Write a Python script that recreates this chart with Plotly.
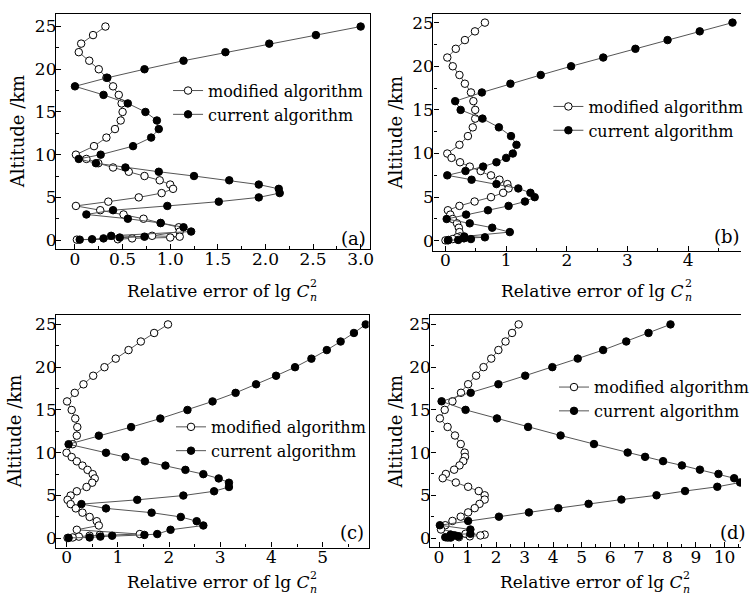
import plotly.graph_objects as go

# ---------------- data ----------------
ALT_HIGH = [25, 24, 23, 22, 21, 20, 19, 18, 17, 16, 15, 14, 13, 12, 11, 10]
ALT_MID = [9.5, 9, 8.5, 8, 7.5, 7, 6.5, 6, 5.5, 5, 4.5, 4, 3.5, 3, 2.5, 2, 1.5, 1]
ALT_LOW = [0.5, 0.4, 0.3, 0.2, 0.1, 0.05]
ALTITUDE = ALT_HIGH + ALT_MID + ALT_LOW

a_modified = [0.32, 0.19, 0.065, 0.04, 0.15, 0.25, 0.33, 0.40, 0.46, 0.49, 0.50, 0.48, 0.42, 0.33, 0.20, 0.01,
              0.12, 0.245, 0.40, 0.565, 0.73, 0.89, 1.00, 1.03, 0.91, 0.67, 0.35, 0.01, 0.265, 0.51, 0.72, 0.90, 1.09, 1.10,
              0.81, 1.10, 1.00, 0.60, 0.45, 0.02]
a_current = [3.00, 2.53, 2.04, 1.58, 1.14, 0.73, 0.34, 0.00, 0.30, 0.555, 0.74, 0.86, 0.88, 0.80, 0.61, 0.27,
             0.04, 0.22, 0.53, 0.88, 1.25, 1.62, 1.93, 2.14, 2.15, 1.93, 1.51, 0.97, 0.40, 0.12, 0.555, 0.90, 1.14, 1.22,
             0.38, 0.73, 0.47, 0.30, 0.18, 0.05]

b_modified = [0.65, 0.486, 0.32, 0.17, 0.03, 0.12, 0.23, 0.32, 0.42, 0.46, 0.49, 0.49, 0.45, 0.37, 0.23, 0.03,
              0.10, 0.24, 0.40, 0.58, 0.75, 0.89, 1.02, 1.04, 0.95, 0.75, 0.48, 0.23, 0.04, 0.08, 0.12, 0.19, 0.22, 0.23,
              0.24, 0.19, 0.30, 0.12, 0.05, 0.00]
b_current = [4.73, 4.19, 3.66, 3.13, 2.60, 2.07, 1.57, 1.07, 0.60, 0.16, 0.25, 0.61, 0.88, 1.08, 1.17, 1.11,
             1.00, 0.84, 0.62, 0.33, 0.03, 0.43, 0.84, 1.20, 1.40, 1.47, 1.31, 1.04, 0.70, 0.34, 0.02, 0.40, 0.77, 1.06,
             0.31, 0.65, 0.31, 0.42, 0.21, 0.04]

c_modified = [1.98, 1.71, 1.45, 1.21, 0.96, 0.74, 0.52, 0.33, 0.16, 0.01, 0.10, 0.17, 0.21, 0.20, 0.12, 0.00,
              0.10, 0.20, 0.31, 0.41, 0.51, 0.55, 0.50, 0.39, 0.20, 0.08, 0.02, 0.08, 0.18, 0.31, 0.45, 0.59, 0.63, 0.20,
              1.43, 0.65, 0.45, 0.24, 0.12, 0.02]
c_current = [5.84, 5.61, 5.35, 5.08, 4.78, 4.46, 4.09, 3.70, 3.30, 2.85, 2.36, 1.83, 1.26, 0.63, 0.04, 0.77,
             1.15, 1.53, 1.93, 2.32, 2.67, 2.97, 3.17, 3.17, 2.88, 2.28, 1.38, 0.29, 0.77, 1.66, 2.23, 2.54, 2.67, 2.03,
             1.77, 1.52, 0.89, 0.66, 0.45, 0.04]

d_modified = [2.79, 2.56, 2.33, 2.08, 1.83, 1.56, 1.30, 1.02, 0.77, 0.47, 0.20, 0.03, 0.30, 0.56, 0.76, 0.90,
              0.91, 0.85, 0.72, 0.53, 0.24, 0.13, 0.59, 1.02, 1.39, 1.60, 1.60, 1.42, 1.25, 1.02, 0.76, 0.47, 0.22, 0.07,
              0.93, 1.60, 1.45, 1.08, 0.70, 0.30]
d_current = [8.11, 7.34, 6.56, 5.75, 4.86, 3.97, 3.02, 2.08, 1.11, 0.09, 0.93, 2.03, 3.12, 4.26, 5.43, 6.61,
             7.22, 7.85, 8.51, 9.14, 9.79, 10.34, 10.55, 9.75, 8.62, 7.62, 6.39, 5.24, 4.18, 3.15, 2.10, 1.02, 0.03, 1.10,
             1.10, 0.41, 0.55, 0.68, 0.22, 0.41]

SERIES_NAMES = ["modified algorithm", "current algorithm"]
PANEL_LABELS = ["(a)", "(b)", "(c)", "(d)"]

a_xticks = [0, 0.5, 1.0, 1.5, 2.0, 2.5, 3.0]
a_xticktext = ["0", "0.5", "1.0", "1.5", "2.0", "2.5", "3.0"]
b_xticks = [0, 1, 2, 3, 4]
c_xticks = [0, 1, 2, 3, 4, 5]
d_xticks = [0, 1, 2, 3, 4, 5, 6, 7, 8, 9, 10]
y_ticks = [0, 5, 10, 15, 20, 25]

Y_TITLE = "Altitude /km"
X_TITLE = "Relative error of lg <i>C</i>"

# ---------------- layout helpers ----------------
W, H = 754, 602
FONT = "DejaVu Serif, Liberation Serif, serif"


def px(x):
    return x / W


def py(y):
    return 1 - y / H


panels = [
    dict(mod=a_modified, cur=a_current, label=PANEL_LABELS[0],
         box=(57, 12.3, 376, 248.3), xr=[-0.199, 3.093], yr=[-1.05, 26.44],
         xt=a_xticks, xtt=a_xticktext, xminor=[0.25, 0.75, 1.25, 1.75, 2.25, 2.75],
         rightline=True, ytitle_x=18, xtitle_y=290, label_pos=(360, 238),
         legend_pos=(171, 72)),
    dict(mod=b_modified, cur=b_current, label=PANEL_LABELS[1],
         box=(441, 12.3, 754, 250), xr=[-0.199, 4.87], yr=[-1.14, 25.96],
         xt=b_xticks, xtt=[str(v) for v in b_xticks], xminor=[0.5, 1.5, 2.5, 3.5, 4.5],
         rightline=False, ytitle_x=402, xtitle_y=290, label_pos=(740, 236),
         legend_pos=(558, 88)),
    dict(mod=c_modified, cur=c_current, label=PANEL_LABELS[2],
         box=(57.3, 315, 375, 548.3), xr=[-0.2, 5.895], yr=[-1.08, 26.05],
         xt=c_xticks, xtt=[str(v) for v in c_xticks], xminor=[0.5, 1.5, 2.5, 3.5, 4.5, 5.5],
         rightline=True, ytitle_x=15, xtitle_y=583, label_pos=(358, 533),
         legend_pos=(174, 410)),
    dict(mod=d_modified, cur=d_current, label=PANEL_LABELS[3],
         box=(438, 315, 754, 548), xr=[-0.30, 10.58], yr=[-1.08, 26.05],
         xt=d_xticks, xtt=[str(v) for v in d_xticks], xminor=[v + 0.5 for v in d_xticks],
         rightline=False, ytitle_x=402, xtitle_y=583, label_pos=(746, 533),
         legend_pos=(564, 370)),
]

y_minor = [2.5, 7.5, 12.5, 17.5, 22.5]

fig = go.Figure()
annotations = []
layout = dict(
    width=W, height=H, autosize=False,
    margin=dict(l=0, r=0, t=0, b=0),
    paper_bgcolor="white", plot_bgcolor="white",
    font=dict(family=FONT, size=16, color="black"),
)

LINE_COLOR = "#555555"
TICK_SIZE = 17

for i, p in enumerate(panels):
    n = i + 1
    xa = "x" if n == 1 else f"x{n}"
    ya = "y" if n == 1 else f"y{n}"
    leg = "legend" if n == 1 else f"legend{n}"
    x0, y0, x1, y1 = p["box"]

    fig.add_trace(go.Scatter(
        x=p["mod"], y=ALTITUDE, mode="lines+markers", name=SERIES_NAMES[0],
        xaxis=xa, yaxis=ya, legend=leg,
        line=dict(color=LINE_COLOR, width=1),
        marker=dict(symbol="circle", size=7.5, color="white", line=dict(color="black", width=1)),
    ))
    fig.add_trace(go.Scatter(
        x=p["cur"], y=ALTITUDE, mode="lines+markers", name=SERIES_NAMES[1],
        xaxis=xa, yaxis=ya, legend=leg,
        line=dict(color=LINE_COLOR, width=1),
        marker=dict(symbol="circle", size=7.5, color="black", line=dict(color="black", width=1)),
    ))

    xkey = "xaxis" if n == 1 else f"xaxis{n}"
    ykey = "yaxis" if n == 1 else f"yaxis{n}"
    layout[xkey] = dict(
        domain=[px(x0), min(1.0, px(x1))], anchor=ya, range=p["xr"],
        showline=True, linecolor="black", linewidth=1.3, mirror=True,
        showgrid=False, zeroline=False,
        tickmode="array", tickvals=p["xt"], ticktext=p["xtt"],
        ticks="inside", ticklen=5, tickwidth=1, tickcolor="black",
        ticklabelstandoff=-6,
        tickfont=dict(family=FONT, size=TICK_SIZE, color="black"),
        minor=dict(tickmode="array", tickvals=p["xminor"], ticks="inside", ticklen=3,
                   tickwidth=1, tickcolor="black", showgrid=False),
    )
    layout[ykey] = dict(
        domain=[py(y1), py(y0)], anchor=xa, range=p["yr"],
        showline=True, linecolor="black", linewidth=1.3, mirror=p["rightline"],
        showgrid=False, zeroline=False,
        tickmode="array", tickvals=y_ticks, ticktext=[str(v) for v in y_ticks],
        ticks="inside", ticklen=5, tickwidth=1, tickcolor="black",
        ticklabelstandoff=-5,
        tickfont=dict(family=FONT, size=TICK_SIZE, color="black"),
        minor=dict(tickmode="array", tickvals=y_minor, ticks="inside", ticklen=3,
                   tickwidth=1, tickcolor="black", showgrid=False),
    )
    lx, ly = p["legend_pos"]
    layout[leg] = dict(
        x=px(lx), y=py(ly), xanchor="left", yanchor="top",
        bgcolor="rgba(0,0,0,0)", borderwidth=0,
        font=dict(family=FONT, size=16, color="black"),
        itemsizing="trace",
    )

    # y title
    annotations.append(dict(
        text=Y_TITLE, x=px(p["ytitle_x"]), y=py((y0 + y1) / 2), xref="paper", yref="paper",
        showarrow=False, textangle=-90, xanchor="center", yanchor="middle",
        font=dict(family=FONT, size=18, color="black"),
    ))
    # x title with stacked super/subscript
    cx = (x0 + min(x1, W)) / 2
    xend = cx + 101
    ty = p["xtitle_y"]
    annotations.append(dict(
        text=X_TITLE, x=px(xend), y=py(ty), xref="paper", yref="paper",
        showarrow=False, xanchor="right", yanchor="middle",
        font=dict(family=FONT, size=17, color="black"),
    ))
    annotations.append(dict(
        text="2", x=px(xend - 4), y=py(ty - 7), xref="paper", yref="paper",
        showarrow=False, xanchor="left", yanchor="middle",
        font=dict(family=FONT, size=11, color="black"),
    ))
    annotations.append(dict(
        text="<i>n</i>", x=px(xend - 4), y=py(ty + 7), xref="paper", yref="paper",
        showarrow=False, xanchor="left", yanchor="middle",
        font=dict(family=FONT, size=11, color="black"),
    ))
    # panel label
    lpx, lpy = p["label_pos"]
    annotations.append(dict(
        text=p["label"], x=px(lpx), y=py(lpy), xref="paper", yref="paper",
        showarrow=False, xanchor="center", yanchor="middle",
        font=dict(family=FONT, size=18, color="black"),
    ))

layout["annotations"] = annotations
fig.update_layout(**layout)
fig.write_html("out.html",
               config={"displayModeBar": False},
               post_script="document.body.style.margin='0';document.body.style.overflow='hidden';")
